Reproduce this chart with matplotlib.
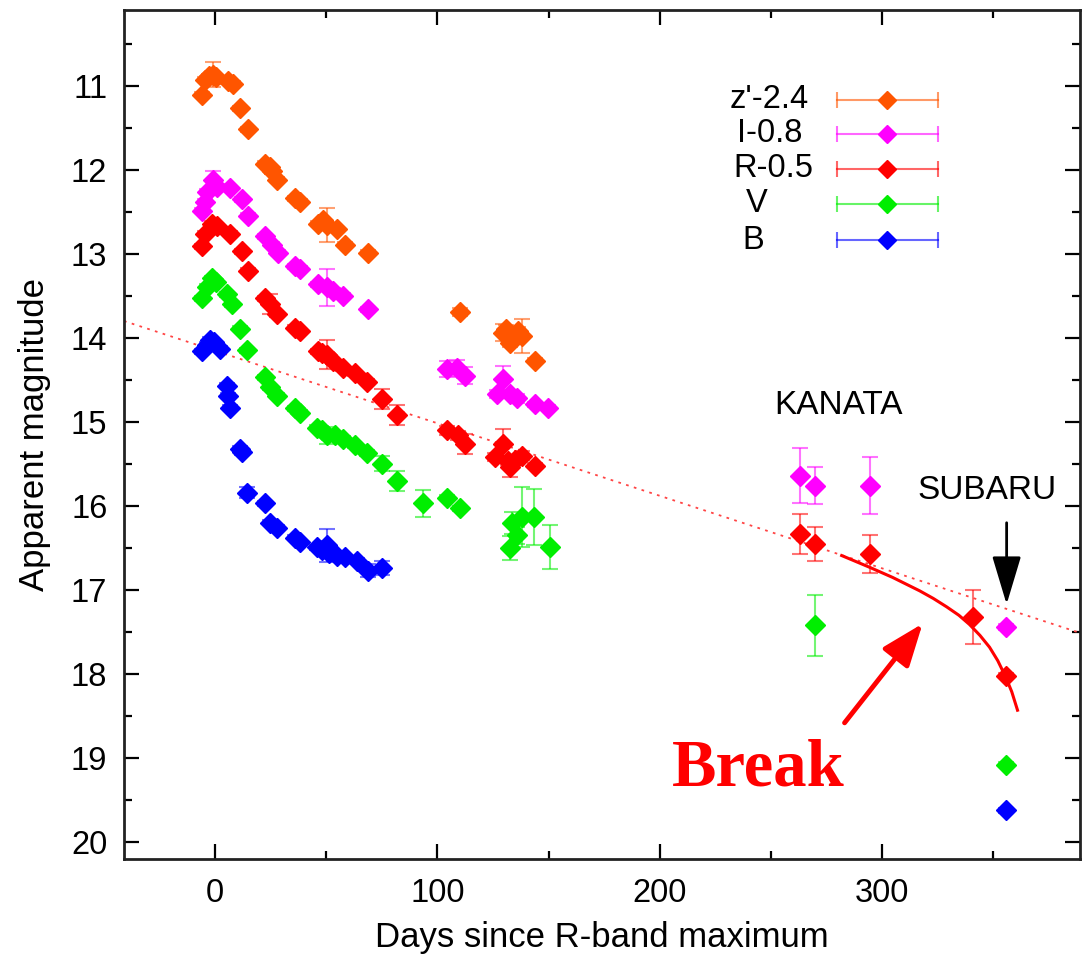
import numpy as np
import matplotlib.pyplot as plt

plt.rcParams['font.family'] = ['Liberation Sans', 'DejaVu Sans']

# light curves (plotted values, offsets already applied)
z_day = [-5.8, -4.5, -2.7, -1.0, 0.5, 6.0, 8.0, 11.2, 14.8, 22.5, 24.5, 25.6, 27.9, 36.0, 38.2,
         46.3, 48.5, 50.3, 54.8, 58.4, 68.8, 110.0, 129.4, 131.0, 132.6, 136.0, 138.0, 143.8]
z_mag = [11.11, 10.93, 10.89, 10.87, 10.90, 10.95, 10.98, 11.27, 11.52, 11.93, 11.97, 12.02, 12.12, 12.34, 12.38,
         12.64, 12.60, 12.66, 12.71, 12.89, 12.99, 13.69, 13.94, 13.90, 14.06, 13.92, 13.98, 14.27]
z_err = [0.03, 0.03, 0.03, 0.15, 0.03, 0.03, 0.03, 0.03, 0.03, 0.03, 0.03, 0.03, 0.03, 0.03, 0.03,
         0.03, 0.03, 0.20, 0.03, 0.03, 0.03, 0.05, 0.10, 0.05, 0.05, 0.05, 0.20, 0.03]

i_day = [-5.8, -4.5, -3.6, -0.9, 1.0, 6.7, 12.0, 14.8, 22.5, 25.6, 28.3, 36.0, 38.2, 46.3, 50.3, 53.0,
         57.5, 68.8, 104.3, 108.8, 112.4, 126.7, 129.4, 132.6, 135.7, 143.8, 149.7, 263.0, 270.0, 294.4, 355.5]
i_mag = [12.49, 12.38, 12.26, 12.12, 12.20, 12.22, 12.35, 12.55, 12.79, 12.89, 12.99, 13.15, 13.18, 13.36, 13.40, 13.44,
         13.50, 13.66, 14.37, 14.36, 14.45, 14.67, 14.49, 14.67, 14.72, 14.79, 14.83, 15.64, 15.76, 15.76, 17.44]
i_err = [0.03, 0.03, 0.03, 0.10, 0.03, 0.03, 0.03, 0.03, 0.03, 0.03, 0.03, 0.03, 0.03, 0.03, 0.22, 0.03,
         0.03, 0.03, 0.10, 0.10, 0.10, 0.05, 0.15, 0.05, 0.05, 0.03, 0.03, 0.33, 0.22, 0.34, 0.03]

r_day = [-5.8, -4.5, -1.3, 1.0, 6.7, 12.0, 14.8, 22.5, 24.7, 27.9, 36.0, 38.2, 46.3, 48.0, 50.3, 53.0,
         57.5, 62.9, 68.3, 75.0, 81.8, 104.3, 109.2, 112.4, 125.8, 129.4, 131.7, 132.6, 135.0, 138.0, 143.8,
         263.0, 270.0, 294.4, 340.7, 355.5]
r_mag = [12.91, 12.76, 12.64, 12.67, 12.76, 12.97, 13.20, 13.53, 13.60, 13.72, 13.88, 13.92, 14.16, 14.18, 14.20, 14.28,
         14.36, 14.42, 14.52, 14.73, 14.92, 15.10, 15.16, 15.26, 15.42, 15.26, 15.46, 15.54, 15.45, 15.40, 15.52,
         16.33, 16.45, 16.57, 17.32, 18.02]
r_err = [0.03, 0.03, 0.03, 0.03, 0.03, 0.03, 0.03, 0.03, 0.12, 0.03, 0.03, 0.03, 0.03, 0.03, 0.17, 0.03,
         0.03, 0.03, 0.03, 0.12, 0.12, 0.05, 0.05, 0.12, 0.05, 0.17, 0.05, 0.12, 0.05, 0.05, 0.03,
         0.24, 0.20, 0.23, 0.32, 0.03]

v_day = [-5.8, -3.6, -1.3, 0.5, 5.4, 7.6, 11.2, 14.4, 22.5, 24.7, 27.9, 36.0, 38.2, 45.8, 48.0, 50.3, 54.0,
         57.5, 62.9, 68.3, 75.0, 81.8, 93.5, 104.3, 110.0, 132.6, 133.5, 135.7, 138.0, 143.4, 150.6, 270.0, 355.5]
v_mag = [13.53, 13.39, 13.29, 13.33, 13.48, 13.60, 13.89, 14.15, 14.47, 14.59, 14.69, 14.84, 14.89, 15.07, 15.10, 15.16, 15.16,
         15.20, 15.28, 15.37, 15.50, 15.70, 15.97, 15.90, 16.03, 16.50, 16.20, 16.35, 16.13, 16.13, 16.49, 17.42, 19.08]
v_err = [0.03, 0.03, 0.03, 0.03, 0.03, 0.03, 0.03, 0.03, 0.03, 0.03, 0.03, 0.03, 0.03, 0.03, 0.03, 0.10, 0.03,
         0.03, 0.03, 0.03, 0.09, 0.12, 0.16, 0.03, 0.03, 0.14, 0.13, 0.10, 0.36, 0.33, 0.26, 0.36, 0.03]

b_day = [-5.8, -3.6, -2.2, -0.5, 2.2, 5.4, 5.8, 6.7, 11.2, 12.0, 14.4, 22.5, 24.7, 27.9, 36.0, 38.2,
         45.8, 48.0, 50.3, 51.0, 54.8, 58.4, 63.8, 68.8, 75.0, 355.5]
b_mag = [14.16, 14.08, 14.02, 14.05, 14.13, 14.57, 14.69, 14.83, 15.32, 15.36, 15.84, 15.97, 16.20, 16.26, 16.38, 16.43,
         16.49, 16.52, 16.47, 16.56, 16.59, 16.61, 16.65, 16.77, 16.74, 19.62]
b_err = [0.03, 0.03, 0.03, 0.03, 0.03, 0.03, 0.03, 0.03, 0.03, 0.03, 0.07, 0.03, 0.03, 0.03, 0.03, 0.03,
         0.03, 0.03, 0.20, 0.03, 0.03, 0.03, 0.03, 0.08, 0.08, 0.03]

bands = [
    ("z'-2.4", z_day, z_mag, z_err, '#ff5500'),
    ("I-0.8", i_day, i_mag, i_err, '#ff00ff'),
    ("R-0.5", r_day, r_mag, r_err, '#ff0000'),
    ("V", v_day, v_mag, v_err, '#00ee00'),
    ("B", b_day, b_mag, b_err, '#0000ff'),
]

# dotted linear decline and the "break" model curve
trend_day = [-41, 389]
trend_mag = [13.80, 17.51]
brk_day = [281.8, 294.4, 304.7, 316.9, 323.0, 329.0, 334.5, 339.3, 344.0, 348.3, 352.0, 355.5, 358.3, 360.9]
brk_mag = [16.59, 16.73, 16.85, 17.01, 17.10, 17.20, 17.30, 17.41, 17.54, 17.68, 17.84, 18.03, 18.21, 18.43]

fig = plt.figure(figsize=(10.82, 9.66), dpi=100)
ax = fig.add_axes([124/1082, 1 - 859/966, 956/1082, 849/966])

ax.plot(trend_day, trend_mag, color='#ff4444', lw=1.3, ls=(0, (1.5, 3)))

for name, d, m, e, c in bands:
    ax.errorbar(d, m, yerr=e, fmt='none', ecolor=c, elinewidth=1.5, capsize=6, capthick=1.5, alpha=0.55, zorder=3)
    ax.plot(d, m, 'D', color=c, ms=10.5, mec=c, zorder=4)

ax.plot(brk_day, brk_mag, color='red', lw=2.2, zorder=5)

ax.set_xticks([0, 100, 200, 300])
ax.set_xticks([50, 150, 250, 350], minor=True)
ax.set_yticks(np.arange(11, 21))
ax.set_yticks(np.arange(10.5, 20.5, 1.0), minor=True)
ax.set_xlim(-41, 389)
ax.set_ylim(20.2, 10.1)
ax.tick_params(which='both', direction='in', top=True, right=True, width=1.6, labelsize=23.5)
ax.tick_params(which='major', length=11)
ax.tick_params(which='minor', length=6)
ax.tick_params(axis='x', pad=14)
ax.tick_params(axis='y', pad=12)
for s in ax.spines.values():
    s.set_linewidth(2.0)
    s.set_color('#222222')

ax.set_xlabel('Days since R-band maximum', fontsize=25, labelpad=8)
ax.set_ylabel('Apparent magnitude', fontsize=25, labelpad=14)

# legend drawn gnuplot style: label on the left, horizontal error bar sample
leg_y = [0.894, 0.854, 0.813, 0.772, 0.729]
leg_x = [0.634, 0.641, 0.637, 0.651, 0.647]
for (name, d, m, e, c), yy, xx in zip(bands, leg_y, leg_x):
    ax.text(xx, yy, name, transform=ax.transAxes, fontsize=23.5, va='center', ha='left')
    ax.plot([0.746, 0.851], [yy, yy], color=c, lw=1.5, alpha=0.6, transform=ax.transAxes)
    ax.plot([0.746, 0.851], [yy, yy], '|', color=c, ms=12, mew=1.5, alpha=0.6, transform=ax.transAxes)
    ax.plot([0.798], [yy], 'D', color=c, ms=9, transform=ax.transAxes)

ax.text(251.7, 14.80, 'KANATA', fontsize=24, va='center', ha='left')
ax.text(316, 15.82, 'SUBARU', fontsize=24, va='center', ha='left')
ax.annotate('', xy=(356, 17.17), xytext=(356, 16.2),
            arrowprops=dict(arrowstyle='-|>,head_length=1.5,head_width=0.45', color='black', lw=2,
                            mutation_scale=20, shrinkA=0, shrinkB=0))
ax.annotate('', xy=(318.2, 17.40), xytext=(283.1, 18.58),
            arrowprops=dict(arrowstyle='-|>,head_length=1.3,head_width=0.5', color='red', lw=3.5,
                            mutation_scale=20, shrinkA=0, shrinkB=0))
ax.text(244.5, 19.33, 'Break', color='red', fontsize=48, fontweight='bold',
        family=['Liberation Serif', 'DejaVu Serif'], ha='center', va='baseline')

fig.savefig('out.png', dpi=100)
